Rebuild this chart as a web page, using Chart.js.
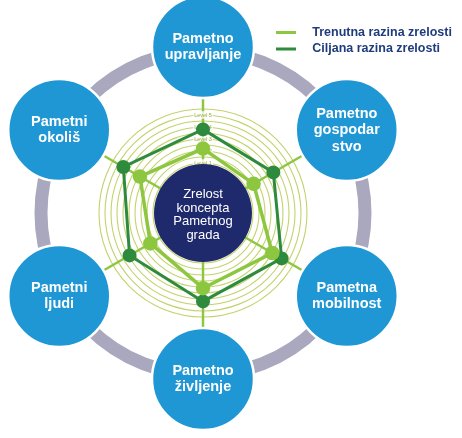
<!DOCTYPE html>
<html><head><meta charset="utf-8">
<script src="https://cdn.jsdelivr.net/npm/chart.js@4.4.1/dist/chart.umd.min.js"></script>
<style>html,body{margin:0;padding:0;background:#fff;overflow:hidden}#wrap{position:relative;width:462px;height:438px}</style>
</head><body><div id="wrap"><canvas id="c" width="462" height="438"></canvas></div>
<script>
// ---- data ----
const categories = [
  ['Pametno', 'upravljanje'],
  ['Pametno', 'gospodar', 'stvo'],
  ['Pametna', 'mobilnost'],
  ['Pametno', 'življenje'],
  ['Pametni', 'ljudi'],
  ['Pametni', 'okoliš']
];
const seriesNames = ['Trenutna razina zrelosti', 'Ciljana razina zrelosti'];
const currentLevel = [2.2, 1.7, 3.5, 3.1, 1.9, 2.9];
const targetLevel  = [3.8, 3.6, 4.4, 4.2, 3.9, 4.5];
const levelValues = [1, 2, 3, 4, 5];
const levelLabels = ['Level 1', 'Level 2', 'Level 3', 'Level 4', 'Level 5'];
const ringValues = [1, 1.5, 2, 2.5, 3, 3.5, 4, 4.5, 5, 5.5];
const centerTitle = ['Zrelost', 'koncepta', 'Pametnog', 'grada'];

// ---- styling ----
const FONT = "'Liberation Sans', Arial, sans-serif";
const LEVEL_AT_CENTRE = -19 / 6;
const PX_PER_LEVEL = 12;
const LIGHT = '#8dc63f', DARK = '#2e8b3d', NAVY = '#1f2a6c', BLUE = '#1f97d5', GREY = '#a9a8bf', TEXTNAVY = '#1f3c7c';

const decor = {
  id: 'decor',
  afterLayout(chart) {
    const lg = chart.legend;
    lg.left = 272; lg.top = 22.25; lg.width = 190; lg.height = 60;
    lg.right = lg.left + lg.width; lg.bottom = lg.top + lg.height;
  },
  beforeDatasetsDraw(chart) {
    const ctx = chart.ctx, s = chart.scales.r;
    const cx = s.xCenter, cy = s.yCenter;
    ctx.save();
    ctx.beginPath(); ctx.arc(cx, cy, 162, 0, 2 * Math.PI);
    ctx.strokeStyle = GREY; ctx.lineWidth = 13; ctx.stroke();
    ctx.textAlign = 'center'; ctx.textBaseline = 'middle';
    categories.forEach((lines, i) => {
      const p = s.getPointPosition(i, 166);
      ctx.beginPath(); ctx.arc(p.x, p.y, 51, 0, 2 * Math.PI);
      ctx.fillStyle = BLUE; ctx.fill();
      ctx.lineWidth = 2.5; ctx.strokeStyle = '#fff'; ctx.stroke();
      ctx.fillStyle = '#fff'; ctx.font = 'bold 14.5px ' + FONT;
      const lh = 16.5, y0 = p.y - (lines.length - 1) * lh / 2;
      lines.forEach((t, k) => ctx.fillText(t, p.x, y0 + k * lh));
    });
    ctx.beginPath(); ctx.arc(cx, cy, 49, 0, 2 * Math.PI);
    ctx.fillStyle = NAVY; ctx.fill();
    ctx.fillStyle = '#fff'; ctx.font = '13px ' + FONT;
    const lh2 = 13.5, yc = cy + 2 - (centerTitle.length - 1) * lh2 / 2;
    centerTitle.forEach((t, k) => ctx.fillText(t, cx, yc + k * lh2));
    ctx.restore();
  }
};

new Chart(document.getElementById('c'), {
  type: 'radar',
  data: {
    labels: categories,
    datasets: [
      { label: seriesNames[0], data: currentLevel, borderColor: LIGHT, backgroundColor: LIGHT,
        pointBackgroundColor: LIGHT, pointBorderColor: LIGHT, borderWidth: 3.5, pointRadius: 5.5,
        fill: false, tension: 0 },
      { label: seriesNames[1], data: targetLevel, borderColor: DARK, backgroundColor: DARK,
        pointBackgroundColor: DARK, pointBorderColor: DARK, borderWidth: 3, pointRadius: 5.5,
        fill: false, tension: 0 }
    ]
  },
  options: {
    responsive: false, animation: false, events: [],
    layout: { padding: { left: 0, right: 56, top: 0, bottom: 11 } },
    scales: {
      r: {
        startAngle: 0,
        afterBuildTicks: sc => {
          sc.ticks = ringValues.map(v => ({ value: v }));
          sc.min = LEVEL_AT_CENTRE;
          sc.max = LEVEL_AT_CENTRE + sc.drawingArea / PX_PER_LEVEL;
        },
        grid: { circular: true, color: '#c4d26c', lineWidth: 1.1 },
        angleLines: { color: LIGHT, lineWidth: 2.5 },
        pointLabels: { display: false },
        ticks: {
          callback: v => { const i = levelValues.indexOf(v); return i >= 0 ? levelLabels[i] : ''; },
          font: { size: 5.5, family: FONT }, color: '#9aad3a',
          backdropColor: 'rgba(255,255,255,0.8)', backdropPadding: 1,
          showLabelBackdrop: c => !!(c.tick && c.tick.label)
        }
      }
    },
    plugins: {
      tooltip: { enabled: false },
      legend: {
        position: 'chartArea', align: 'start',
        labels: {
          boxWidth: 30, boxHeight: 0, padding: 4, color: TEXTNAVY,
          font: { size: 12.5, weight: 'bold', family: FONT },
          generateLabels: chart => chart.data.datasets.map((d, i) => ({
            text: d.label, fillStyle: 'rgba(0,0,0,0)', strokeStyle: d.borderColor,
            lineWidth: 3, lineDash: [20, 200], lineCap: 'butt', hidden: false,
            datasetIndex: i, fontColor: TEXTNAVY
          }))
        }
      }
    }
  },
  plugins: [decor]
});
</script>
</body></html>
